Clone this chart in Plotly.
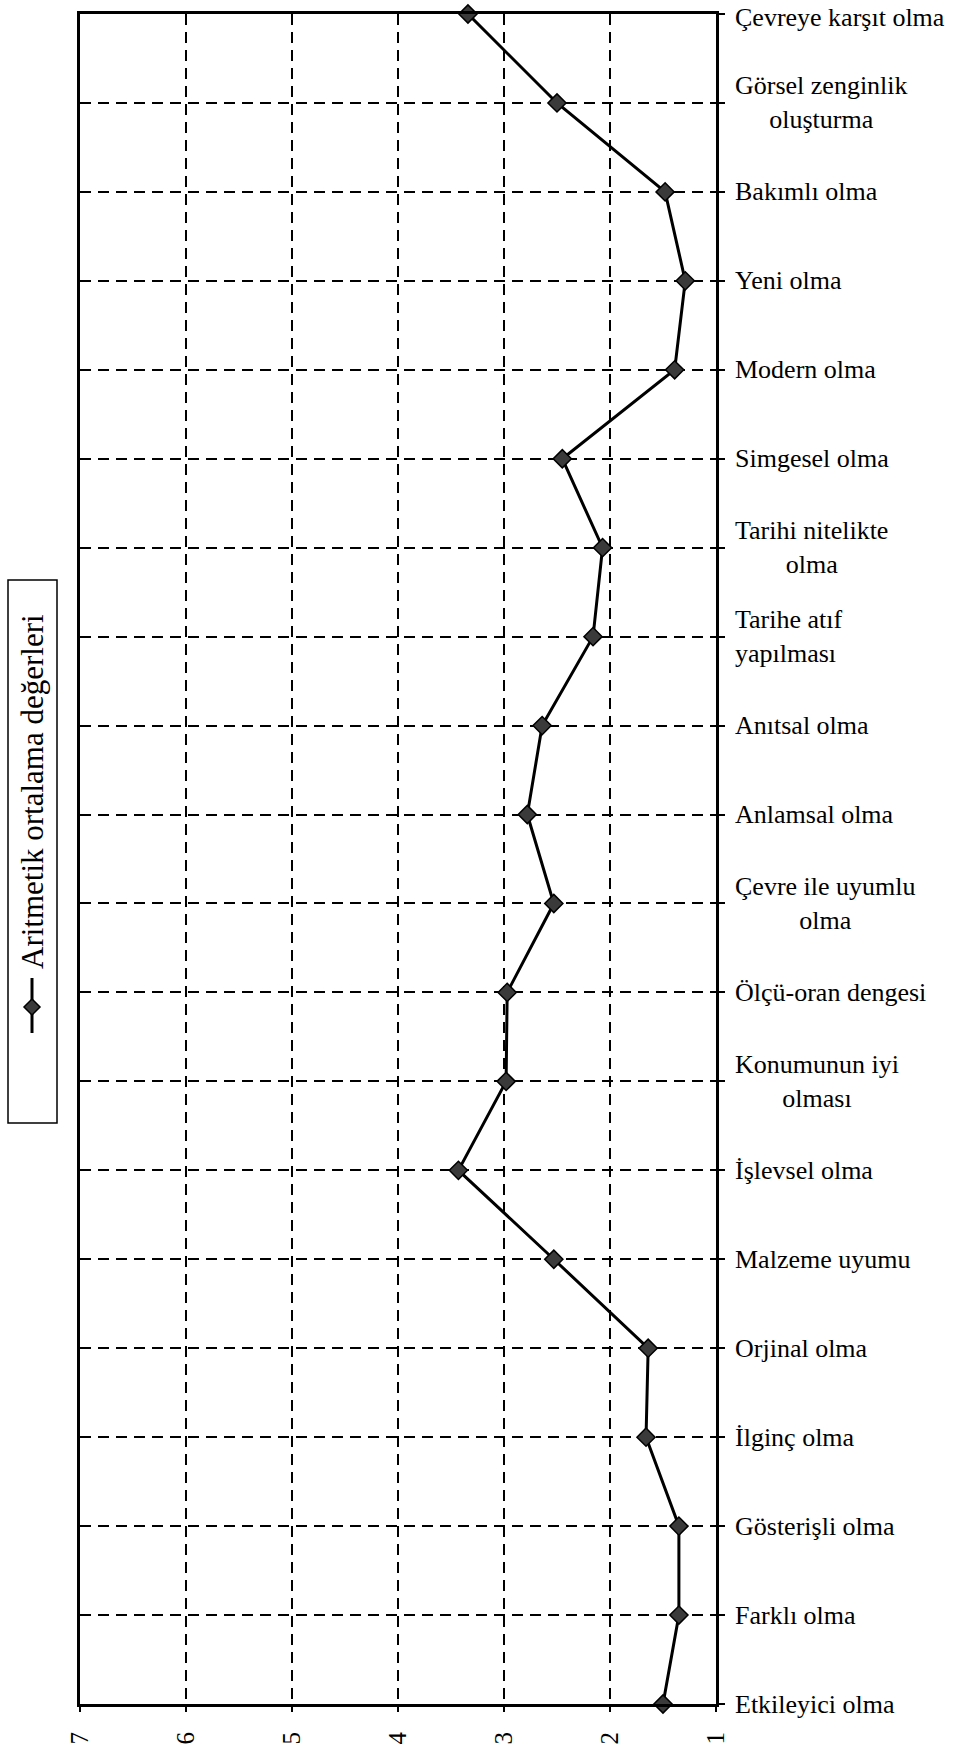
import plotly.graph_objects as go

# ---- data ----
categories = [
    "Çevreye karşıt olma", "Görsel zenginlik oluşturma", "Bakımlı olma", "Yeni olma",
    "Modern olma", "Simgesel olma", "Tarihi nitelikte olma", "Tarihe atıf yapılması",
    "Anıtsal olma", "Anlamsal olma", "Çevre ile uyumlu olma", "Ölçü-oran dengesi",
    "Konumunun iyi olması", "İşlevsel olma", "Malzeme uyumu", "Orjinal olma",
    "İlginç olma", "Gösterişli olma", "Farklı olma", "Etkileyici olma",
]
category_labels = [
    "Çevreye karşıt olma", "Görsel zenginlik<br>oluşturma", "Bakımlı olma", "Yeni olma",
    "Modern olma", "Simgesel olma", "Tarihi nitelikte<br>olma", "Tarihe atıf<br>yapılması",
    "Anıtsal olma", "Anlamsal olma", "Çevre ile uyumlu<br>olma", "Ölçü-oran dengesi",
    "Konumunun iyi<br>olması", "İşlevsel olma", "Malzeme uyumu", "Orjinal olma",
    "İlginç olma", "Gösterişli olma", "Farklı olma", "Etkileyici olma",
]
values = [3.34, 2.50, 1.48, 1.29, 1.39, 2.45, 2.07, 2.16, 2.64, 2.78,
          2.53, 2.97, 2.98, 3.43, 2.53, 1.64, 1.66, 1.35, 1.35, 1.50]
x_ticks = [7, 6, 5, 4, 3, 2, 1]
series_name = "Aritmetik ortalama değerleri"

# ---- style ----
label_align = ["center"] * len(categories)
label_align[categories.index("Tarihe atıf yapılması")] = "left"
label_yshift = [0] * len(categories)
label_yshift[0] = -3  # keep the top label inside the page
FONT = "Liberation Serif, Times New Roman, serif"
W, H = 958, 1746
L, R, T, B = 80, 716, 14, 1704


def px(x):
    """page x (pixels) -> paper coordinate"""
    return (x - L) / (R - L)


def py(y):
    """page y (pixels) -> paper coordinate"""
    return (B - y) / (B - T)


fig = go.Figure()
fig.add_trace(go.Scatter(
    x=values, y=categories, mode="lines+markers", name=series_name,
    line=dict(color="black", width=3),
    marker=dict(symbol="diamond", size=14, color="#3a3a3a",
                line=dict(color="black", width=1.5)),
    cliponaxis=False, showlegend=False,
))

annotations = []
for cat, lab, al, ys in zip(categories, category_labels, label_align, label_yshift):
    annotations.append(dict(
        x=1, xref="paper", y=cat, yref="y", xanchor="left", yanchor="middle",
        xshift=17, yshift=ys, text=lab, align=al, showarrow=False,
        font=dict(family=FONT, size=26, color="black"),
    ))

# legend (rotated, drawn manually)
annotations.append(dict(
    x=px(33), y=py(792), xref="paper", yref="paper", xanchor="center", yanchor="middle",
    text=series_name, textangle=-90, showarrow=False,
    font=dict(family=FONT, size=31, color="black"),
))
shapes = [
    dict(type="rect", xref="paper", yref="paper", x0=px(8), x1=px(57), y0=py(580), y1=py(1123),
         line=dict(color="black", width=1.5), fillcolor="rgba(0,0,0,0)"),
    dict(type="line", xref="paper", yref="paper", x0=px(32), x1=px(32), y0=py(978), y1=py(1033),
         line=dict(color="black", width=3)),
    dict(type="path", xref="paper", yref="paper",
         path=f"M {px(32)},{py(999)} L {px(40)},{py(1007)} L {px(32)},{py(1015)} L {px(24)},{py(1007)} Z",
         line=dict(color="black", width=1.5), fillcolor="#3a3a3a"),
]

fig.update_layout(
    width=W, height=H,
    margin=dict(l=L, r=W - R, t=T, b=H - B, pad=0, autoexpand=False),
    paper_bgcolor="white", plot_bgcolor="white",
    font=dict(family=FONT, color="black"),
    annotations=annotations, shapes=shapes,
    showlegend=False,
)
fig.update_xaxes(
    range=[7, 1], tickmode="array", tickvals=x_ticks, ticktext=[str(v) for v in x_ticks],
    tickangle=-90, tickfont=dict(family=FONT, size=25, color="black"),
    ticks="outside", ticklen=5, tickwidth=1.5, tickcolor="black", ticklabelstandoff=10,
    automargin=False,
    showgrid=True, gridcolor="black", gridwidth=1.5, griddash="11px,7px",
    showline=True, linecolor="black", linewidth=3, mirror=True, zeroline=False,
)
fig.update_yaxes(
    type="category", categoryorder="array", categoryarray=categories,
    range=[len(categories) - 1, 0], side="right", showticklabels=False,
    ticks="outside", ticklen=6, tickwidth=1.5, tickcolor="black", automargin=False,
    showgrid=True, gridcolor="black", gridwidth=1.5, griddash="11px,7px",
    showline=True, linecolor="black", linewidth=3, mirror=True, zeroline=False,
)

fig.write_html(
    "out.html",
    config={"displayModeBar": False},
    post_script="document.body.style.margin='0';document.body.style.overflow='hidden';",
)
